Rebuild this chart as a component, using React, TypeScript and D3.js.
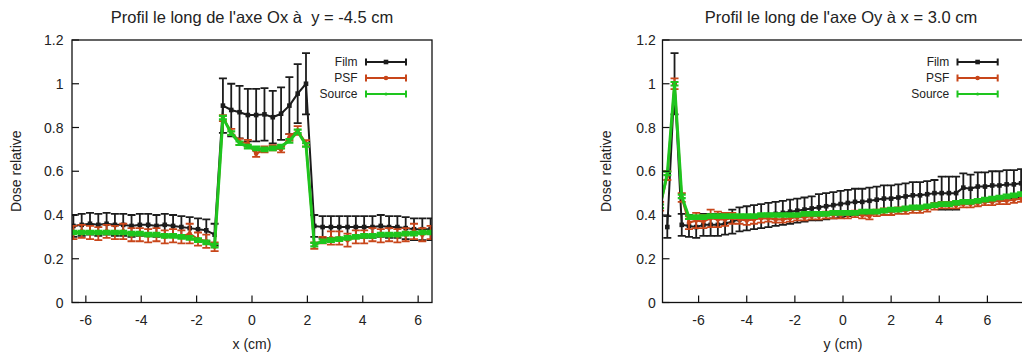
import React from 'react';
import * as d3 from 'd3';

// ---------- data ----------
const X_TICKS = [-6, -4, -2, 0, 2, 4, 6];
const Y_TICKS = [0, 0.2, 0.4, 0.6, 0.8, 1, 1.2];
const Y_TICK_LABELS = ['0', '0.2', '0.4', '0.6', '0.8', '1', '1.2'];
const SERIES_NAMES = ['Film', 'PSF', 'Source'];

// Left profile (along Ox at y = -4.5 cm)
const X_LEFT = [-6.45, -6.15, -5.85, -5.55, -5.25, -4.95, -4.65, -4.35, -4.05, -3.75, -3.45, -3.15, -2.85, -2.55, -2.25, -1.95, -1.65, -1.35,
  -1.05, -0.75, -0.45, -0.15, 0.15, 0.45, 0.75, 1.05, 1.35, 1.65, 1.95,
  2.25, 2.55, 2.85, 3.15, 3.45, 3.75, 4.05, 4.35, 4.65, 4.95, 5.25, 5.55, 5.85, 6.15, 6.45];
const FILM_LEFT = [0.35, 0.355, 0.36, 0.355, 0.36, 0.355, 0.355, 0.35, 0.355, 0.355, 0.35, 0.355, 0.35, 0.345, 0.34, 0.335, 0.33, 0.31,
  0.90, 0.88, 0.87, 0.857, 0.857, 0.86, 0.847, 0.863, 0.90, 0.955, 1.0,
  0.35, 0.345, 0.345, 0.345, 0.345, 0.345, 0.345, 0.345, 0.35, 0.345, 0.345, 0.34, 0.335, 0.335, 0.335];
const FILM_ERR_LEFT = [0.05, 0.05, 0.05, 0.05, 0.05, 0.05, 0.05, 0.05, 0.05, 0.05, 0.05, 0.05, 0.05, 0.05, 0.05, 0.05, 0.05, 0.05,
  0.125, 0.12, 0.12, 0.12, 0.12, 0.12, 0.12, 0.12, 0.13, 0.135, 0.14,
  0.05, 0.05, 0.05, 0.05, 0.05, 0.05, 0.05, 0.05, 0.05, 0.05, 0.05, 0.05, 0.05, 0.05, 0.05];
const PSF_LEFT = [0.32, 0.325, 0.32, 0.315, 0.325, 0.32, 0.325, 0.31, 0.31, 0.305, 0.31, 0.30, 0.305, 0.30, 0.315, 0.29, 0.28, 0.255,
  0.843, 0.78, 0.735, 0.728, 0.68, 0.70, 0.707, 0.70, 0.755, 0.786, 0.728,
  0.26, 0.285, 0.295, 0.295, 0.285, 0.30, 0.30, 0.31, 0.305, 0.31, 0.305, 0.31, 0.325, 0.31, 0.32];
const PSF_ERR_LEFT = [0.03, 0.03, 0.03, 0.03, 0.03, 0.03, 0.035, 0.03, 0.03, 0.03, 0.03, 0.03, 0.03, 0.03, 0.045, 0.03, 0.03, 0.02,
  0.014, 0.014, 0.014, 0.015, 0.014, 0.014, 0.012, 0.014, 0.015, 0.02, 0.014,
  0.015, 0.015, 0.03, 0.03, 0.03, 0.03, 0.03, 0.03, 0.03, 0.03, 0.03, 0.03, 0.035, 0.03, 0.03];
const SOURCE_LEFT = [0.32, 0.32, 0.32, 0.32, 0.32, 0.32, 0.32, 0.315, 0.315, 0.31, 0.31, 0.305, 0.305, 0.30, 0.295, 0.285, 0.275, 0.26,
  0.845, 0.774, 0.728, 0.713, 0.705, 0.70, 0.705, 0.713, 0.739, 0.782, 0.72,
  0.265, 0.28, 0.285, 0.29, 0.295, 0.30, 0.305, 0.305, 0.31, 0.31, 0.31, 0.315, 0.315, 0.32, 0.32];
const SOURCE_ERR_LEFT = X_LEFT.map(() => 0.008);

// Right profile (along Oy at x = 3.0 cm)
const X_RIGHT = [-7.6, -7.3, -7.0, -6.7, -6.4, -6.1, -5.8, -5.5, -5.2, -4.9, -4.6, -4.3, -4.0, -3.7, -3.4, -3.1, -2.8, -2.5, -2.2, -1.9,
  -1.6, -1.3, -1.0, -0.7, -0.4, -0.1, 0.2, 0.5, 0.8, 1.1, 1.4, 1.7, 2.0, 2.3, 2.6, 2.9, 3.2, 3.5, 3.8, 4.1,
  4.4, 4.7, 5.0, 5.3, 5.6, 5.9, 6.2, 6.5, 6.8, 7.1, 7.4];
const FILM_RIGHT = [null, 0.345, 1.00, 0.355, 0.35, 0.345, 0.355, 0.355, 0.355, 0.36, 0.37, 0.38, 0.385, 0.39, 0.395, 0.40, 0.405, 0.41, 0.415, 0.42,
  0.425, 0.43, 0.435, 0.44, 0.445, 0.45, 0.455, 0.46, 0.46, 0.465, 0.47, 0.475, 0.475, 0.48, 0.485, 0.49, 0.49, 0.495, 0.50, 0.50,
  0.50, 0.50, 0.525, 0.52, 0.53, 0.53, 0.535, 0.535, 0.54, 0.54, 0.545];
const FILM_ERR_RIGHT = [null, 0.05, 0.14, 0.05, 0.05, 0.05, 0.05, 0.05, 0.05, 0.05, 0.055, 0.055, 0.055, 0.055, 0.055, 0.055, 0.055, 0.055, 0.055, 0.055,
  0.055, 0.055, 0.06, 0.06, 0.06, 0.06, 0.06, 0.06, 0.06, 0.06, 0.06, 0.06, 0.06, 0.06, 0.06, 0.06, 0.06, 0.06, 0.06, 0.075,
  0.075, 0.075, 0.065, 0.065, 0.065, 0.065, 0.065, 0.065, 0.065, 0.065, 0.065];
const PSF_RIGHT = [0.44, 0.58, 1.0, 0.48, 0.365, 0.375, 0.37, 0.385, 0.38, 0.38, 0.385, 0.38, 0.375, 0.38, 0.385, 0.385, 0.38, 0.38, 0.385, 0.39,
  0.39, 0.395, 0.395, 0.40, 0.40, 0.40, 0.40, 0.405, 0.40, 0.395, 0.41, 0.415, 0.415, 0.42, 0.42, 0.425, 0.425, 0.43, 0.44, 0.445,
  0.445, 0.445, 0.45, 0.45, 0.455, 0.46, 0.46, 0.465, 0.465, 0.47, 0.475];
const PSF_ERR_RIGHT = [0.02, 0.02, 0.025, 0.02, 0.03, 0.035, 0.03, 0.04, 0.035, 0.03, 0.025, 0.02, 0.02, 0.02, 0.02, 0.015, 0.015, 0.015, 0.015, 0.015,
  0.015, 0.015, 0.015, 0.015, 0.015, 0.015, 0.015, 0.015, 0.015, 0.015, 0.015, 0.015, 0.015, 0.015, 0.015, 0.015, 0.015, 0.015, 0.015, 0.015,
  0.015, 0.015, 0.015, 0.015, 0.015, 0.015, 0.015, 0.015, 0.015, 0.015, 0.015];
const SOURCE_RIGHT = [0.44, 0.59, 1.0, 0.485, 0.39, 0.39, 0.39, 0.395, 0.395, 0.395, 0.395, 0.395, 0.395, 0.395, 0.40, 0.40, 0.40, 0.40, 0.40, 0.40,
  0.405, 0.405, 0.405, 0.405, 0.41, 0.41, 0.41, 0.41, 0.415, 0.415, 0.415, 0.42, 0.425, 0.425, 0.43, 0.435, 0.435, 0.44, 0.445, 0.45,
  0.45, 0.455, 0.46, 0.46, 0.465, 0.47, 0.475, 0.48, 0.485, 0.49, 0.495];
const SOURCE_ERR_RIGHT = X_RIGHT.map(() => 0.008);

// ---------- styles ----------
const COLORS = ['#1c1c1c', '#c8461a', '#1ec51e'];
const LINE_W = [2.0, 2.2, 3.0];
const FONT = 'Liberation Sans, Arial, sans-serif';

type Series = { name: string; color: string; marker: number; width: number; y: (number | null)[]; err: (number | null)[] };

type PanelProps = {
  id: string;
  left: number; right: number; top: number; bottom: number;
  xDomain: [number, number];
  xs: number[];
  series: Series[];
  title: string; titleX: number;
  xLabel: string; xLabelX: number;
  yLabelX: number;
  tickLabelRight: number;
  legendTextRight: number; legendLineX0: number; legendLineX1: number;
};

function Marker({ kind, cx, cy, color }: { kind: number; cx: number; cy: number; color: string }) {
  if (kind === 0) return <rect x={cx - 2.3} y={cy - 2.3} width={4.6} height={4.6} fill={color} />;
  if (kind === 1) return <circle cx={cx} cy={cy} r={2.3} fill={color} />;
  return <circle cx={cx} cy={cy} r={1.6} fill={color} />;
}

function Panel(p: PanelProps) {
  const x = d3.scaleLinear().domain(p.xDomain).range([p.left, p.right]);
  const y = d3.scaleLinear().domain([0, 1.2]).range([p.bottom, p.top]);
  const cap = 4;
  const legendRows = [62, 78, 94];
  return (
    <g fontFamily={FONT}>
      <defs>
        <clipPath id={p.id}>
          <rect x={p.left} y={p.top} width={p.right - p.left} height={p.bottom - p.top} />
        </clipPath>
      </defs>
      <text x={p.titleX} y={22.5} textAnchor="middle" fontSize={16.5} fill="#222" style={{ whiteSpace: 'pre' }}>{p.title}</text>
      <g clipPath={`url(#${p.id})`}>
        {p.series.map((s, si) => {
          const pts = p.xs.map((xv, i) => ({ x: xv, y: s.y[i], e: s.err[i] }));
          const line = d3.line<{ x: number; y: number | null }>()
            .defined(d => d.y != null)
            .x(d => x(d.x))
            .y(d => y(d.y as number));
          return (
            <g key={si}>
              {pts.filter(d => d.y != null && d.e != null).map((d, i) => {
                const px = x(d.x);
                const yt = y((d.y as number) + (d.e as number));
                const yb = y((d.y as number) - (d.e as number));
                return (
                  <g key={i} stroke={s.color} strokeWidth={si === 2 ? 2.2 : 1.8}>
                    <line x1={px} x2={px} y1={yt} y2={yb} />
                    <line x1={px - cap} x2={px + cap} y1={yt} y2={yt} />
                    <line x1={px - cap} x2={px + cap} y1={yb} y2={yb} />
                  </g>
                );
              })}
              <path d={line(pts) || ''} fill="none" stroke={s.color} strokeWidth={s.width} strokeLinejoin="round" />
              {pts.filter(d => d.y != null).map((d, i) => (
                <Marker key={i} kind={s.marker} cx={x(d.x)} cy={y(d.y as number)} color={s.color} />
              ))}
            </g>
          );
        })}
      </g>
      <rect x={p.left} y={p.top} width={p.right - p.left} height={p.bottom - p.top} fill="none" stroke="#111" strokeWidth={1.3} />
      {X_TICKS.map(t => (
        <g key={t}>
          <line x1={x(t)} x2={x(t)} y1={p.bottom} y2={p.bottom - 7} stroke="#111" strokeWidth={1.2} />
          <text x={x(t)} y={324.5} textAnchor="middle" fontSize={14} fill="#222">{String(t)}</text>
        </g>
      ))}
      {Y_TICKS.map((t, i) => (
        <g key={t}>
          <line x1={p.left} x2={p.left + 7} y1={y(t)} y2={y(t)} stroke="#111" strokeWidth={1.2} />
          <text x={p.tickLabelRight} y={y(t) + 5} textAnchor="end" fontSize={14} fill="#222">{Y_TICK_LABELS[i]}</text>
        </g>
      ))}
      <text x={p.xLabelX} y={348.5} textAnchor="middle" fontSize={14} fill="#222">{p.xLabel}</text>
      <text transform={`translate(${p.yLabelX},${(p.top + p.bottom) / 2}) rotate(-90)`} textAnchor="middle" fontSize={14} fill="#222">Dose relative</text>
      {p.series.map((s, si) => {
        const ly = legendRows[si];
        const mx = (p.legendLineX0 + p.legendLineX1) / 2;
        return (
          <g key={si}>
            <text x={p.legendTextRight} y={ly + 4.3} textAnchor="end" fontSize={12} fill="#222">{s.name}</text>
            <g stroke={s.color} strokeWidth={2}>
              <line x1={p.legendLineX0} x2={p.legendLineX1} y1={ly} y2={ly} />
              <line x1={p.legendLineX0} x2={p.legendLineX0} y1={ly - 3.5} y2={ly + 3.5} />
              <line x1={p.legendLineX1} x2={p.legendLineX1} y1={ly - 3.5} y2={ly + 3.5} />
            </g>
            <Marker kind={s.marker} cx={mx} cy={ly} color={s.color} />
          </g>
        );
      })}
    </g>
  );
}

export default function App() {
  const mk = (ys: (number | null)[][], es: (number | null)[][]): Series[] =>
    SERIES_NAMES.map((name, i) => ({ name, color: COLORS[i], marker: i, width: LINE_W[i], y: ys[i], err: es[i] }));
  const leftSeries = mk([FILM_LEFT, PSF_LEFT, SOURCE_LEFT], [FILM_ERR_LEFT, PSF_ERR_LEFT, SOURCE_ERR_LEFT]);
  const rightSeries = mk([FILM_RIGHT, PSF_RIGHT, SOURCE_RIGHT], [FILM_ERR_RIGHT, PSF_ERR_RIGHT, SOURCE_ERR_RIGHT]);
  return (
    <svg width={1022} height={358} style={{ position: 'absolute', left: 0, top: 0, background: '#fff' }}>
      <rect x={0} y={0} width={1022} height={358} fill="#fff" />
      <Panel id="clipL" left={72} right={432} top={40} bottom={302.5} xDomain={[-6.5, 6.5]} xs={X_LEFT} series={leftSeries}
        title={"Profil le long de l'axe Ox à  y = -4.5 cm"} titleX={252} xLabel="x (cm)" xLabelX={252} yLabelX={20.5} tickLabelRight={63.5}
        legendTextRight={357.5} legendLineX0={366} legendLineX1={406} />
      <Panel id="clipR" left={662.5} right={1023.5} top={40} bottom={302.5} xDomain={[-7.5, 7.5]} xs={X_RIGHT} series={rightSeries}
        title={"Profil le long de l'axe Oy à x = 3.0 cm"} titleX={841} xLabel="y (cm)" xLabelX={843} yLabelX={610.5} tickLabelRight={655.7}
        legendTextRight={949.3} legendLineX0={957.5} legendLineX1={997.7} />
    </svg>
  );
}
